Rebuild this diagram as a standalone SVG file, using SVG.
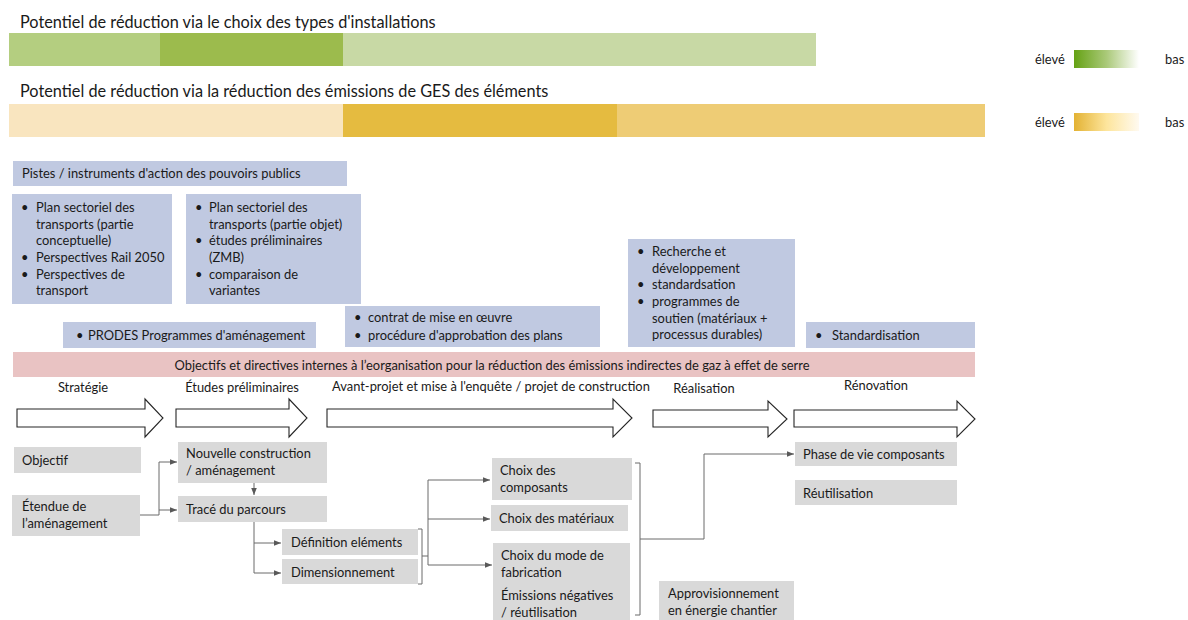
<svg xmlns="http://www.w3.org/2000/svg" width="1188" height="620" viewBox="0 0 1188 620">
<defs>
<linearGradient id="gGreen" x1="0" y1="0" x2="1" y2="0">
<stop offset="0" stop-color="#65a214"/><stop offset="0.5" stop-color="#aac979"/><stop offset="1" stop-color="#ffffff"/>
</linearGradient>
<linearGradient id="gYellow" x1="0" y1="0" x2="1" y2="0">
<stop offset="0" stop-color="#e3b233"/><stop offset="0.5" stop-color="#fde59c"/><stop offset="1" stop-color="#fffaf0"/>
</linearGradient>
<marker id="ah" viewBox="0 0 10 10" refX="10" refY="5" markerWidth="7" markerHeight="7" markerUnits="userSpaceOnUse" orient="auto">
<path d="M0,1 L10,5 L0,9 z" fill="#595959"/>
</marker>
<style>
text{font-family:Lato,"Open Sans","Liberation Sans",sans-serif;fill:#1a1a1a;font-size:12.9px}
.title{font-size:16.3px}
.blue{fill:#c0c9e1}
.gray{fill:#d9d9d9}
.pink{fill:#e9c3c3}
.phase{fill:#ffffff;stroke:#262626;stroke-width:1.1}
.conn{fill:none;stroke:#6b6b6b;stroke-width:1}
.arr{marker-end:url(#ah)}
</style>
</defs>

<g id="bars">
<text class="title" x="20" y="28">Potentiel de réduction via le choix des types d'installations</text>
<rect x="9" y="33" width="151" height="33" fill="#b4ce80"/>
<rect x="160" y="33" width="183" height="33" fill="#9cbb4d"/>
<rect x="343" y="33" width="473" height="33" fill="#c8d9a5"/>
<text class="title" x="20" y="97">Potentiel de réduction via la réduction des émissions de GES des éléments</text>
<rect x="9" y="104" width="334" height="33" fill="#f9e5bf"/>
<rect x="343" y="104" width="274" height="33" fill="#e5bb40"/>
<rect x="617" y="104" width="368" height="33" fill="#eecc75"/>
</g>

<g id="legend">
<text x="1035" y="64">élevé</text>
<rect x="1074" y="50" width="65" height="18" fill="url(#gGreen)"/>
<text x="1165" y="64">bas</text>
<text x="1035" y="127">élevé</text>
<rect x="1074" y="113" width="65" height="18" fill="url(#gYellow)"/>
<text x="1165" y="127">bas</text>
</g>

<g id="pistes">
<rect class="blue" x="13" y="161" width="334" height="25"/>
<text x="22" y="178">Pistes / instruments d'action des pouvoirs publics</text>
</g>

<g id="box-strategie">
<rect class="blue" x="12" y="194" width="160" height="110"/>
<text x="21" y="212">•</text><text x="36" y="212">Plan sectoriel des</text>
<text x="36" y="228.7">transports (partie</text>
<text x="36" y="245.4">conceptuelle)</text>
<text x="21" y="262">•</text><text x="36" y="262">Perspectives Rail 2050</text>
<text x="21" y="278.7">•</text><text x="36" y="278.7">Perspectives de</text>
<text x="36" y="295.4">transport</text>
</g>

<g id="box-etudes">
<rect class="blue" x="186" y="194" width="175" height="110"/>
<text x="195" y="212">•</text><text x="209" y="212">Plan sectoriel des</text>
<text x="209" y="228.7">transports (partie objet)</text>
<text x="195" y="245.4">•</text><text x="209" y="245.4">études préliminaires</text>
<text x="209" y="262">(ZMB)</text>
<text x="195" y="278.7">•</text><text x="209" y="278.7">comparaison de</text>
<text x="209" y="295.4">variantes</text>
</g>

<g id="box-prodes">
<rect class="blue" x="63" y="322" width="253" height="26"/>
<text x="76" y="340">•</text><text x="88" y="340">PRODES Programmes d'aménagement</text>
</g>

<g id="box-contrat">
<rect class="blue" x="345" y="306" width="255" height="41"/>
<text x="354" y="322">•</text><text x="368" y="322">contrat de mise en œuvre</text>
<text x="354" y="339.5">•</text><text x="368" y="339.5">procédure d'approbation des plans</text>
</g>

<g id="box-recherche">
<rect class="blue" x="628" y="239" width="167" height="108"/>
<text x="637" y="256">•</text><text x="652" y="256">Recherche et</text>
<text x="652" y="272.7">développement</text>
<text x="637" y="289.4">•</text><text x="652" y="289.4">standardsation</text>
<text x="637" y="306">•</text><text x="652" y="306">programmes de</text>
<text x="652" y="322.7">soutien (matériaux +</text>
<text x="652" y="339.4">processus durables)</text>
</g>

<g id="box-standardisation">
<rect class="blue" x="806" y="322" width="169" height="26"/>
<text x="815" y="340">•</text><text x="832" y="340">Standardisation</text>
</g>

<g id="objectifs">
<rect class="pink" x="13" y="352" width="962" height="25"/>
<text x="492" y="370" text-anchor="middle">Objectifs et directives internes à l’eorganisation pour la réduction des émissions indirectes de gaz à effet de serre</text>
</g>

<g id="phases">
<g id="phase-strategie">
<text x="83" y="392" text-anchor="middle">Stratégie</text>
<path class="phase" d="M17,409 H145 V399 L163,418 L145,437 V427 H17 Z"/>
</g>
<g id="phase-etudes">
<text x="242" y="392" text-anchor="middle">Études préliminaires</text>
<path class="phase" d="M176,409 H289 V399 L307,418 L289,437 V427 H176 Z"/>
</g>
<g id="phase-avant-projet">
<text x="332" y="391">Avant-projet et mise à l'enquête / projet de construction</text>
<path class="phase" d="M327,409 H613 V399 L632,418 L613,437 V427 H327 Z"/>
</g>
<g id="phase-realisation">
<text x="704" y="393" text-anchor="middle">Réalisation</text>
<path class="phase" d="M653,410 H768 V401 L787,419 L768,437 V427 H653 Z"/>
</g>
<g id="phase-renovation">
<text x="876" y="390" text-anchor="middle">Rénovation</text>
<path class="phase" d="M794,410 H957 V401 L975,419 L957,437 V427 H794 Z"/>
</g>
</g>

<g id="n-objectif"><rect class="gray" x="14" y="447" width="127" height="26"/><text x="22" y="465">Objectif</text></g>
<g id="n-etendue"><rect class="gray" x="12" y="495" width="128" height="41"/><text x="22" y="511">Étendue de</text><text x="22" y="528">l’aménagement</text></g>
<g id="n-nouvelle"><rect class="gray" x="178" y="442" width="149" height="41"/><text x="186" y="458">Nouvelle construction</text><text x="186" y="475">/  aménagement</text></g>
<g id="n-trace"><rect class="gray" x="178" y="496" width="149" height="26"/><text x="186" y="514">Tracé du parcours</text></g>
<g id="n-definition"><rect class="gray" x="282" y="529" width="136" height="26"/><text x="291" y="547">Définition eléments</text></g>
<g id="n-dimension"><rect class="gray" x="282" y="559" width="136" height="25"/><text x="291" y="577">Dimensionnement</text></g>
<g id="n-composants"><rect class="gray" x="492" y="458" width="140" height="42"/><text x="500" y="475">Choix des</text><text x="500" y="492">composants</text></g>
<g id="n-materiaux"><rect class="gray" x="491" y="505" width="137" height="26"/><text x="499" y="523">Choix des matériaux</text></g>
<g id="n-mode"><rect class="gray" x="493" y="543" width="137" height="42"/><text x="501" y="560">Choix du mode de</text><text x="501" y="577">fabrication</text></g>
<g id="n-emissions"><rect class="gray" x="493" y="585" width="137" height="35"/><text x="501" y="600">Émissions négatives</text><text x="501" y="617">/ réutilisation</text></g>
<g id="n-appro"><rect class="gray" x="659" y="581" width="135" height="39"/><text x="668" y="598">Approvisionnement</text><text x="668" y="615">en énergie chantier</text></g>
<g id="n-phase-vie"><rect class="gray" x="795" y="442" width="162" height="24"/><text x="803" y="459">Phase de vie composants</text></g>
<g id="n-reutilisation"><rect class="gray" x="795" y="480" width="162" height="25"/><text x="803" y="498">Réutilisation</text></g>

<g id="connectors">
<path class="conn" d="M140,515 H159"/>
<path class="conn arr" d="M159,515 V462 H177"/>
<path class="conn arr" d="M159,510 H177"/>
<path class="conn arr" d="M254,483 V495"/>
<path class="conn arr" d="M254,522 V543 H281"/>
<path class="conn arr" d="M254,543 V573 H281"/>
<path class="conn" d="M418,529 H422 V584 H418"/>
<path class="conn" d="M422,556 H428"/>
<path class="conn arr" d="M428,556 V480 H490"/>
<path class="conn arr" d="M428,519 H490"/>
<path class="conn arr" d="M428,556 V565 H492"/>
<path class="conn" d="M635,463 H640 V615 H635"/>
<path class="conn arr" d="M640,539 H704 V454 H794"/>
</g>
</svg>
